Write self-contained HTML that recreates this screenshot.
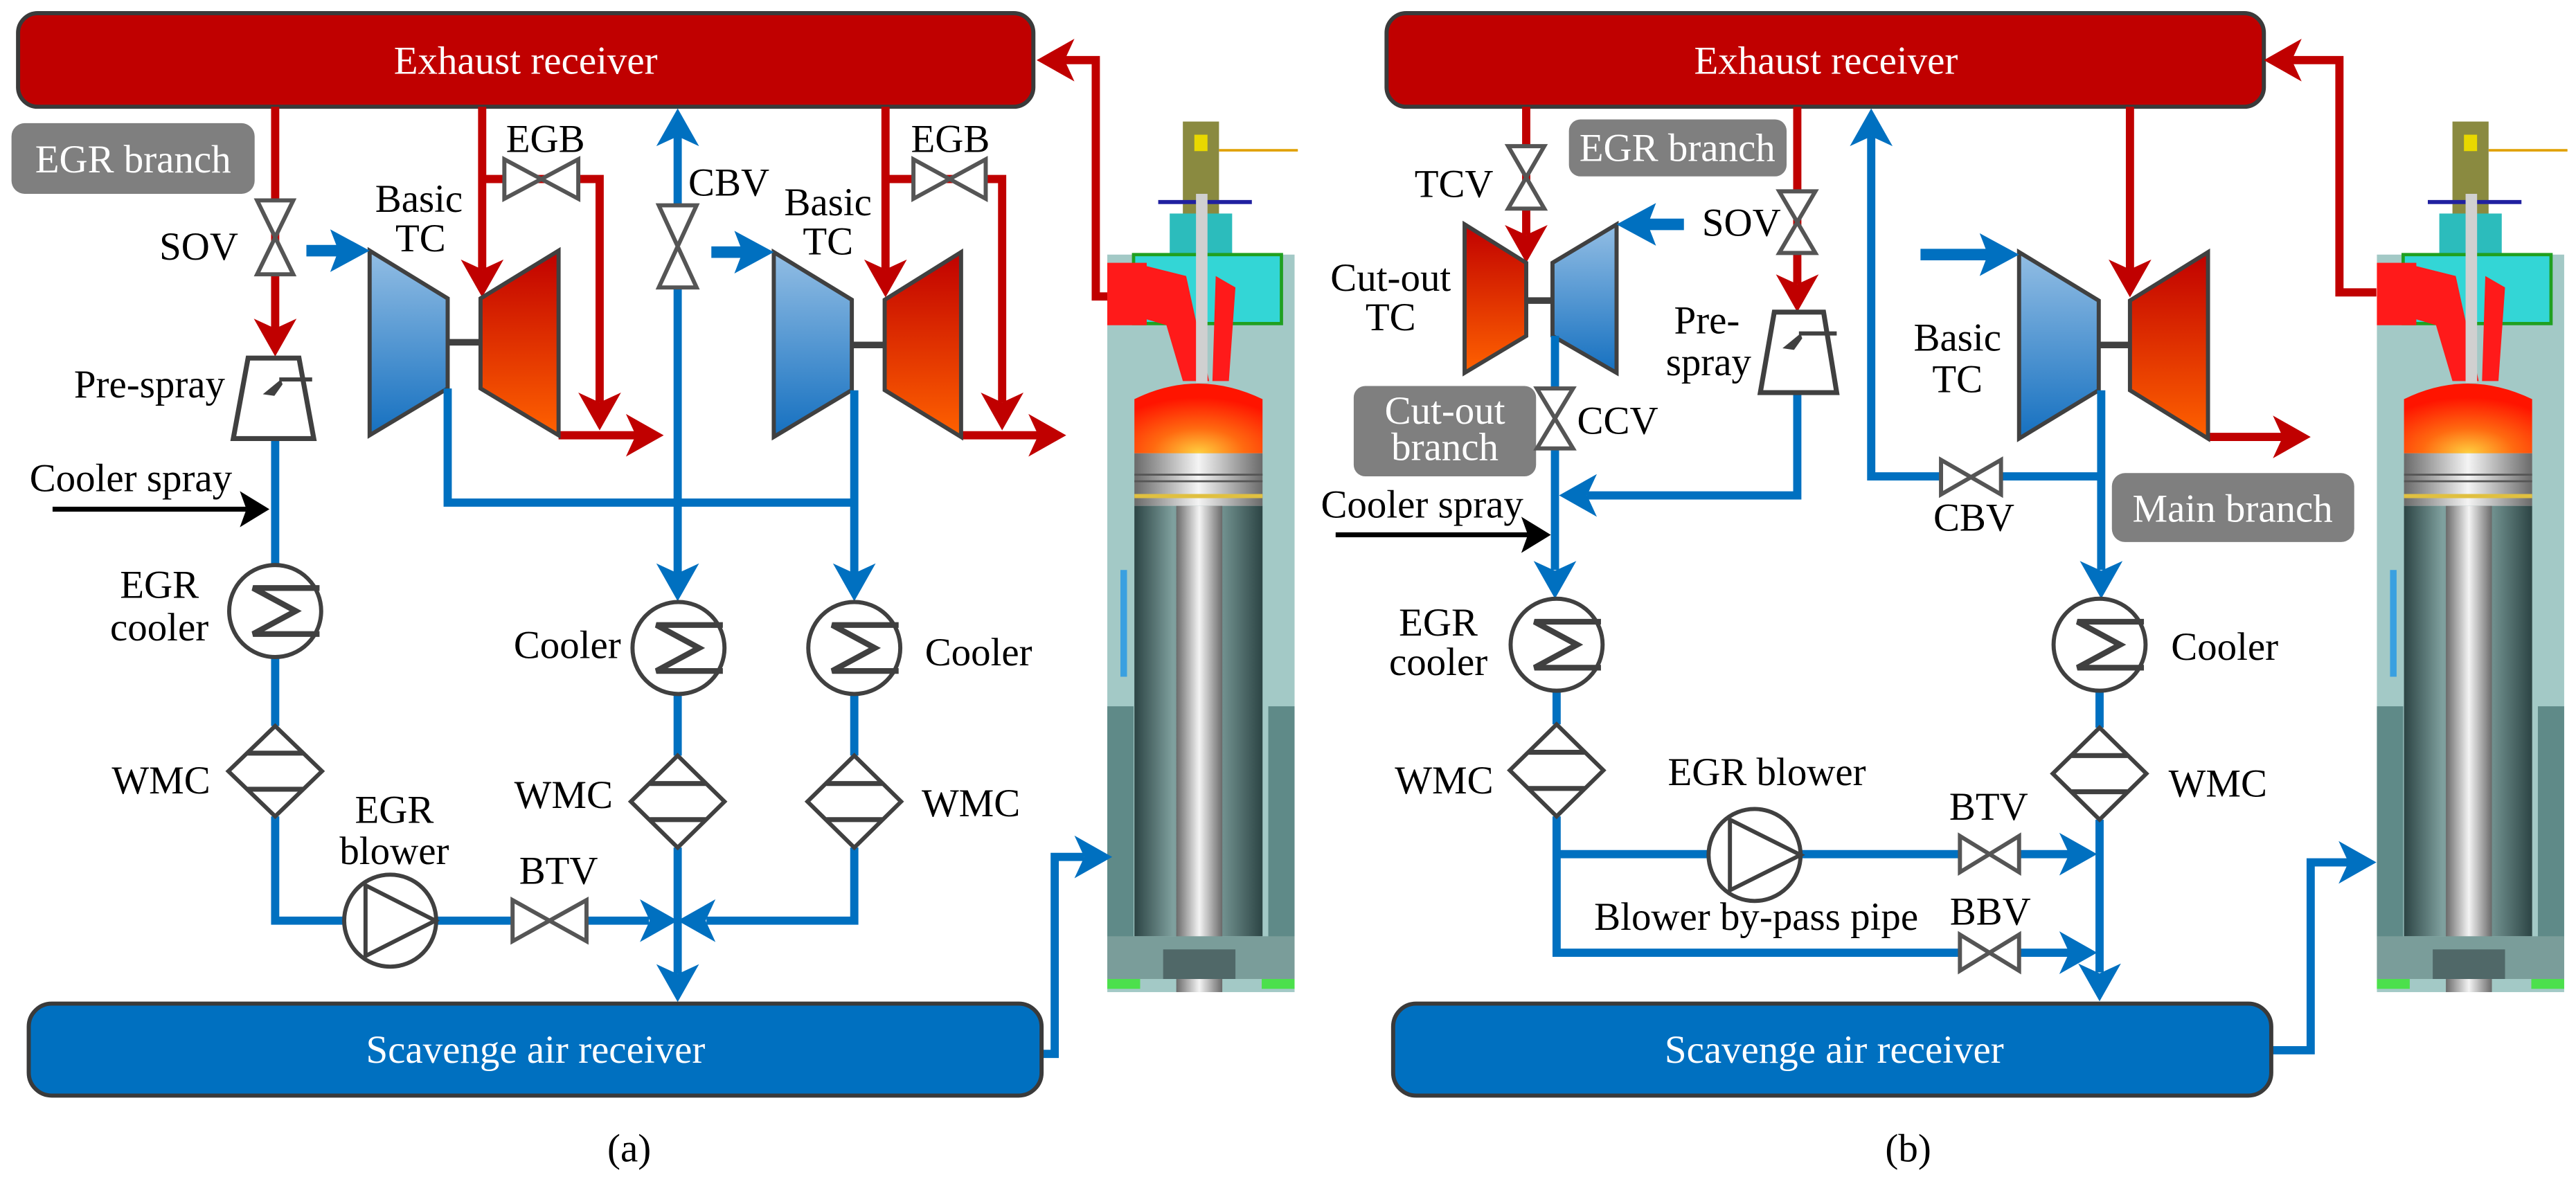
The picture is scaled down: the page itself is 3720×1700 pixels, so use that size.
<!DOCTYPE html>
<html><head><meta charset="utf-8"><style>
html,body{margin:0;padding:0;background:#fff;}
svg{display:block;}
svg text{font-family:"Liberation Serif","Times New Roman","DejaVu Serif",serif;font-size:24px;fill:#000;}
.w{fill:#fff;}
.m{text-anchor:middle;}
.e{text-anchor:end;}
.r{stroke:#C00000;stroke-width:5;fill:none;}
.b{stroke:#0070C0;stroke-width:5;fill:none;}
.ra{fill:#C00000;}
.ba{fill:#0070C0;}
.v{fill:#fff;stroke:#555;stroke-width:2.5;stroke-linejoin:miter;}
.c{fill:#fff;stroke:#404040;stroke-width:2.5;}
.s{fill:none;stroke:#404040;stroke-width:3.5;}
.g{fill:#7f7f7f;}
</style></head><body>
<svg width="3720" height="1700" viewBox="0 0 1568 716.56" preserveAspectRatio="none" xmlns="http://www.w3.org/2000/svg" font-family="Liberation Serif, serif" font-size="24">
<defs>
<linearGradient id="gB" x1="0" y1="0" x2="0" y2="1"><stop offset="0" stop-color="#93BEE4"/><stop offset="1" stop-color="#1570C0"/></linearGradient>
<linearGradient id="gR" x1="0" y1="0" x2="0" y2="1"><stop offset="0" stop-color="#C00000"/><stop offset="1" stop-color="#FF6200"/></linearGradient>
<radialGradient id="gF" cx="0.5" cy="1" r="0.8"><stop offset="0" stop-color="#ffd040"/><stop offset="0.45" stop-color="#ff6a10"/><stop offset="1" stop-color="#ff1400"/></radialGradient>
<linearGradient id="gP" x1="0" y1="0" x2="1" y2="0"><stop offset="0" stop-color="#6a6a6a"/><stop offset="0.5" stop-color="#f4f4f4"/><stop offset="1" stop-color="#6a6a6a"/></linearGradient>
<linearGradient id="gC" x1="0" y1="0" x2="1" y2="0"><stop offset="0" stop-color="#2c4444"/><stop offset="0.3" stop-color="#7fa09e"/><stop offset="0.7" stop-color="#6f8f8d"/><stop offset="1" stop-color="#2c4444"/></linearGradient>
<g id="eng">
<rect x="674" y="155" width="114" height="449" fill="#a3c9c6"/>
<rect x="674" y="430" width="16" height="142" fill="#5f8a88"/>
<rect x="772" y="430" width="16" height="142" fill="#5f8a88"/>
<rect x="720" y="74" width="22" height="82" fill="#8a8a40"/>
<rect x="727" y="82" width="8" height="10" fill="#e8d800"/>
<line x1="705" y1="123" x2="762" y2="123" stroke="#2020a0" stroke-width="2.5"/>
<line x1="742" y1="91.5" x2="790" y2="91.5" stroke="#e0a000" stroke-width="1.5"/>
<rect x="712" y="130" width="38" height="26" fill="#2cbcbc"/>
<rect x="690" y="155" width="90" height="42" fill="#33d6d6" stroke="#20a020" stroke-width="2"/>
<rect x="674" y="160" width="24" height="38" fill="#ff1a1a"/>
<path d="M690,160 L722,168 L736,232 L720,232 L710,198 L690,192 Z" fill="#ff1a1a"/>
<path d="M740,168 L752,175 L748,232 L738,232 Z" fill="#ff1a1a"/>
<rect x="728" y="118" width="7" height="115" fill="#d0d0d0"/>
<path d="M690.5,276 V243 Q729,224 768.5,243 V276 Z" fill="url(#gF)"/>
<rect x="690.5" y="276" width="78" height="32" fill="url(#gP)"/>
<line x1="690.5" y1="289" x2="768.5" y2="289" stroke="#555" stroke-width="1.2"/>
<line x1="690.5" y1="293" x2="768.5" y2="293" stroke="#555" stroke-width="1.2"/>
<line x1="690.5" y1="302" x2="768.5" y2="302" stroke="#e0c040" stroke-width="2.5"/>
<rect x="690.5" y="308" width="78" height="262" fill="url(#gC)"/>
<rect x="716" y="308" width="28" height="296" fill="url(#gP)"/>
<rect x="682" y="347" width="4" height="65" fill="#3aa0e0"/>
<rect x="674" y="570" width="114" height="26" fill="#7a9d9a"/>
<rect x="708" y="578" width="44" height="18" fill="#506868"/>
<rect x="674" y="596" width="20" height="6" fill="#4ce04c"/>
<rect x="768" y="596" width="20" height="6" fill="#4ce04c"/>
</g>
</defs>

<!-- ========== LEFT PANEL (a) ========== -->
<use href="#eng"/>
<rect x="11" y="8" width="618" height="57" rx="12" fill="#C00000" stroke="#3a3a3a" stroke-width="2.5"/>
<text class="w m" x="320" y="45">Exhaust receiver</text>
<rect x="7" y="75" width="148" height="43" rx="8" class="g"/>
<text class="w m" x="81" y="105">EGR branch</text>

<path class="r" d="M167.5,65 V200"/>
<polygon class="ra" points="167.5,217 154.5,194 167.5,200 180.5,194"/>
<path class="r" d="M293.5,65 V164"/>
<polygon class="ra" points="293.5,181 280.5,158 293.5,164 306.5,158"/>
<path class="r" d="M293.5,109 H365 V245"/>
<polygon class="ra" points="365,262 352,239 365,245 378,239"/>
<path class="r" d="M340,265 H388"/>
<polygon class="ra" points="404,265 381,252 387,265 381,278"/>
<path class="r" d="M539,65 V164"/>
<polygon class="ra" points="539,181 526,158 539,164 552,158"/>
<path class="r" d="M539,109 H610 V245"/>
<polygon class="ra" points="610,262 597,239 610,245 623,239"/>
<path class="r" d="M585,265 H633"/>
<polygon class="ra" points="649,265 626,252 632,265 626,278"/>
<path class="r" d="M674,180.5 H667 V36.6 H648"/>
<polygon class="ra" points="631,36.6 654,23.6 648,36.6 654,49.6"/>

<path class="v" d="M156.5,122 H178.5 L156.5,167 H178.5 Z"/>
<path class="v" d="M307,97 V121 L352,97 V121 Z"/>
<path class="v" d="M556,97 V121 L600,97 V121 Z"/>

<polygon points="225,152.6 272.5,181.7 272.5,236.5 225,265" fill="url(#gB)" stroke="#404040" stroke-width="2.5"/>
<line x1="272.5" y1="208.4" x2="292.5" y2="208.4" stroke="#404040" stroke-width="4"/>
<polygon points="292.5,181.7 340,152.6 340,265 292.5,236.5" fill="url(#gR)" stroke="#404040" stroke-width="2.5"/>
<polygon points="471,153.5 518.5,182.5 518.5,237.5 471,266" fill="url(#gB)" stroke="#404040" stroke-width="2.5"/>
<line x1="518.5" y1="210" x2="538.5" y2="210" stroke="#404040" stroke-width="4"/>
<polygon points="538.5,182.5 585,153.5 585,266 538.5,237.5" fill="url(#gR)" stroke="#404040" stroke-width="2.5"/>

<path class="b" d="M186.5,152.6 H207" style="stroke-width:7"/>
<polygon class="ba" points="225,152.6 201,139.6 206,152.6 201,165.6"/>
<path class="b" d="M433,153.5 H453" style="stroke-width:7"/>
<polygon class="ba" points="471,153.5 447,140.5 452,153.5 447,166.5"/>
<path class="b" d="M167.5,267 V344 M167.5,400 V442 M167.5,497 V560.5 H210 M265,560.5 H312 M357,560.5 H395"/>
<polygon class="ba" points="412.5,560.5 389.5,547.5 395.5,560.5 389.5,573.5"/>
<path class="b" d="M520,423 V460 M520,516 V560.5 H430"/>
<polygon class="ba" points="412.5,560.5 435.5,547.5 429.5,560.5 435.5,573.5"/>
<path class="b" d="M412.5,83 V125 M412.5,175 V349 M412.5,423 V460 M412.5,516 V593"/>
<polygon class="ba" points="412.5,66 399.5,89 412.5,83 425.5,89"/>
<polygon class="ba" points="412.5,366 399.5,343 412.5,349 425.5,343"/>
<polygon class="ba" points="412.5,610 399.5,587 412.5,593 425.5,587"/>
<path class="b" d="M272.5,236.5 V306 H520 M520,237.6 V349"/>
<polygon class="ba" points="520,366 507,343 520,349 533,343"/>
<path class="b" d="M634,641.6 H642 V521.7 H660"/>
<polygon class="ba" points="677,521.7 654,508.7 660,521.7 654,534.7"/>
<path class="v" d="M401,125 H424 L401,175 H424 Z"/>
<path class="v" d="M312,548 V573 L357,548 V573 Z"/>

<path d="M151,218 H182 L191,267 H142 Z" fill="#fff" stroke="#404040" stroke-width="3"/>
<line x1="170" y1="231" x2="190" y2="231" stroke="#404040" stroke-width="2.5"/>
<path d="M171,231 L160,240 L167,241 L172,234 Z" fill="#404040"/>
<line x1="32" y1="310" x2="150" y2="310" stroke="#000" stroke-width="3"/>
<polygon points="164,310 146,299 150,310 146,321" fill="#000"/>

<circle class="c" cx="167.5" cy="372" r="28"/>
<path class="s" d="M194.5,358 H154 L180,372 L154,386 H194.5"/>
<circle class="c" cx="413" cy="394.5" r="28"/>
<path class="s" d="M440,380.5 H399.5 L425.5,394.5 L399.5,408.5 H440"/>
<circle class="c" cx="520" cy="394.5" r="28"/>
<path class="s" d="M547,380.5 H506.5 L532.5,394.5 L506.5,408.5 H547"/>

<path class="c" d="M167.5,442 L196,469.5 L167.5,497 L139,469.5 Z"/>
<path class="s" style="stroke-width:3" d="M150.5,458.5 H184.5 M150.5,480.5 H184.5"/>
<path class="c" d="M412.5,460 L441,488 L412.5,516 L384,488 Z"/>
<path class="s" style="stroke-width:3" d="M395.5,477 H429.5 M395.5,499 H429.5"/>
<path class="c" d="M520,460 L548.5,488 L520,516 L491.5,488 Z"/>
<path class="s" style="stroke-width:3" d="M503,477 H537 M503,499 H537"/>

<circle class="c" cx="237.5" cy="560.5" r="28"/>
<path d="M222.5,539 L265,560.5 L222.5,582 Z" fill="none" stroke="#404040" stroke-width="2.5"/>

<rect x="17.5" y="611" width="616.5" height="56" rx="14" fill="#0070C0" stroke="#3a3a3a" stroke-width="2.5"/>
<text class="w m" x="326" y="647">Scavenge air receiver</text>

<text class="e" x="145" y="158">SOV</text>
<text class="m" x="255" y="129">Basic</text>
<text class="m" x="256" y="153">TC</text>
<text class="m" x="332" y="92.5">EGB</text>
<text x="419" y="119">CBV</text>
<text class="m" x="504" y="131">Basic</text>
<text class="m" x="504" y="155">TC</text>
<text class="m" x="578.5" y="92.5">EGB</text>
<text class="e" x="137" y="242">Pre-spray</text>
<text x="18" y="299">Cooler spray</text>
<text class="m" x="97" y="364">EGR</text>
<text class="m" x="97" y="390">cooler</text>
<text class="e" x="378" y="400.6">Cooler</text>
<text x="563" y="405">Cooler</text>
<text class="e" x="128" y="483">WMC</text>
<text class="e" x="373" y="492">WMC</text>
<text x="561" y="497">WMC</text>
<text class="m" x="240" y="501">EGR</text>
<text class="m" x="240" y="526">blower</text>
<text class="m" x="340" y="538">BTV</text>
<text class="m" x="383" y="707">(a)</text>

<!-- ========== RIGHT PANEL (b) ========== -->
<use href="#eng" transform="translate(772.8,0)"/>
<rect x="844" y="8" width="534" height="57" rx="12" fill="#C00000" stroke="#3a3a3a" stroke-width="2.5"/>
<text class="w m" x="1111.5" y="45">Exhaust receiver</text>
<rect x="955" y="72.7" width="132.5" height="34.7" rx="7" class="g"/>
<text class="w m" x="1021" y="98">EGR branch</text>
<rect x="824" y="235" width="111" height="55" rx="7" class="g"/>
<text class="w m" x="879.5" y="258">Cut-out</text>
<text class="w m" x="879.5" y="280">branch</text>
<rect x="1285.5" y="288" width="147.5" height="42" rx="8" class="g"/>
<text class="w m" x="1359" y="317.6">Main branch</text>

<path class="r" d="M929,65 V143"/>
<polygon class="ra" points="929,160 916,137 929,143 942,137"/>
<path class="r" d="M1094,65 V173"/>
<polygon class="ra" points="1094,190 1081,167 1094,173 1107,167"/>
<path class="r" d="M1296.5,65 V164"/>
<polygon class="ra" points="1296.5,181 1283.5,158 1296.5,164 1309.5,158"/>
<path class="r" d="M1344,266 H1390"/>
<polygon class="ra" points="1406.5,266 1383.5,253 1389.5,266 1383.5,279"/>
<path class="r" d="M1446.5,178 H1424 V36.6 H1395"/>
<polygon class="ra" points="1378,36.6 1401,23.6 1395,36.6 1401,49.6"/>
<path class="v" d="M918,89 H940 L918,127 H940 Z"/>
<path class="v" d="M1083,116.5 H1105 L1083,154 H1105 Z"/>

<polygon points="891.5,136.6 929,160 929,204.5 891.5,227" fill="url(#gR)" stroke="#404040" stroke-width="2.5"/>
<line x1="929" y1="183" x2="945" y2="183" stroke="#404040" stroke-width="4"/>
<polygon points="945,160 984,136.6 984,227 945,204.5" fill="url(#gB)" stroke="#404040" stroke-width="2.5"/>
<polygon points="1229,153.5 1277.5,183 1277.5,237.6 1229,267" fill="url(#gB)" stroke="#404040" stroke-width="2.5"/>
<line x1="1277.5" y1="210" x2="1296.5" y2="210" stroke="#404040" stroke-width="4"/>
<polygon points="1296.5,183 1344,153.5 1344,267 1296.5,237.6" fill="url(#gR)" stroke="#404040" stroke-width="2.5"/>

<path class="b" d="M1025,136.6 H1002" style="stroke-width:7"/>
<polygon class="ba" points="984,136.6 1008,123.6 1003,136.6 1008,149.6"/>
<path class="b" d="M1169,155 H1211" style="stroke-width:7"/>
<polygon class="ba" points="1229,155 1205,142 1210,155 1205,168"/>
<path class="b" d="M946.5,204.5 V236.5 M946.5,273 V347 M947.5,421 V441 M947.5,497 V580 H1193 M1229,580 H1260 M947.5,520 H1040 M1096,520 H1193 M1229,520 H1260"/>
<polygon class="ba" points="946.5,364.5 933.5,341.5 946.5,347.5 959.5,341.5"/>
<polygon class="ba" points="1276.5,520 1253.5,507 1259.5,520 1253.5,533"/>
<polygon class="ba" points="1276.5,580 1253.5,567 1259.5,580 1253.5,593"/>
<path class="b" d="M1094,239 V301.6 H966"/>
<polygon class="ba" points="949,301.6 972,288.6 966,301.6 972,314.6"/>
<path class="b" d="M1139,83 V290 H1182 M1218,290 H1279 M1279,237.6 V347 M1278,421 V443 M1278,499 V592"/>
<polygon class="ba" points="1139,66 1126,89 1139,83 1152,89"/>
<polygon class="ba" points="1279,364.5 1266,341.5 1279,347.5 1292,341.5"/>
<polygon class="ba" points="1278,609.6 1265,586.6 1278,592.6 1291,586.6"/>
<path class="b" d="M1382.5,639.4 H1406.5 V525 H1430"/>
<polygon class="ba" points="1446.5,525 1423.5,512 1429.5,525 1423.5,538"/>
<path class="v" d="M935.5,236.5 H957.5 L935.5,273 H957.5 Z"/>
<path class="v" d="M1181.5,280 V301 L1218,280 V301 Z"/>
<path class="v" d="M1193,509 V531 L1229,509 V531 Z"/>
<path class="v" d="M1193,569 V591 L1229,569 V591 Z"/>

<path d="M1080,190 H1110 L1118,239 H1071.5 Z" fill="#fff" stroke="#404040" stroke-width="3"/>
<line x1="1095" y1="203" x2="1118" y2="203" stroke="#404040" stroke-width="2.5"/>
<path d="M1096,203 L1085,212 L1092,213 L1097,206 Z" fill="#404040"/>
<line x1="813" y1="325.6" x2="930" y2="325.6" stroke="#000" stroke-width="3"/>
<polygon points="944,325.6 926,314.6 930,325.6 926,336.6" fill="#000"/>

<circle class="c" cx="947.5" cy="392.5" r="28"/>
<path class="s" d="M974.5,378.5 H934 L960,392.5 L934,406.5 H974.5"/>
<circle class="c" cx="1278" cy="392.5" r="28"/>
<path class="s" d="M1305,378.5 H1264.5 L1290.5,392.5 L1264.5,406.5 H1305"/>
<path class="c" d="M947.5,441 L976,469 L947.5,497 L919,469 Z"/>
<path class="s" style="stroke-width:3" d="M930.5,458 H964.5 M930.5,480 H964.5"/>
<path class="c" d="M1278,443 L1306.5,471 L1278,499 L1249.5,471 Z"/>
<path class="s" style="stroke-width:3" d="M1261,460 H1295 M1261,482 H1295"/>
<circle class="c" cx="1068" cy="520.5" r="28"/>
<path d="M1053,499 L1096,520.5 L1053,542 Z" fill="none" stroke="#404040" stroke-width="2.5"/>

<rect x="848" y="611" width="534.5" height="56" rx="14" fill="#0070C0" stroke="#3a3a3a" stroke-width="2.5"/>
<text class="w m" x="1116.5" y="647">Scavenge air receiver</text>

<text class="e" x="909" y="120">TCV</text>
<text class="e" x="1084" y="143.5">SOV</text>
<text class="m" x="846.5" y="177">Cut-out</text>
<text class="m" x="846.5" y="201">TC</text>
<text class="m" x="1039" y="203">Pre-</text>
<text class="m" x="1040" y="228.5">spray</text>
<text class="m" x="1191.5" y="213.6">Basic</text>
<text class="m" x="1191.5" y="238.8">TC</text>
<text x="960" y="264">CCV</text>
<text x="804" y="315">Cooler spray</text>
<text class="m" x="1201.5" y="323">CBV</text>
<text class="m" x="875.5" y="387">EGR</text>
<text class="m" x="875.5" y="411">cooler</text>
<text x="1321.5" y="401.7">Cooler</text>
<text class="e" x="909" y="483">WMC</text>
<text x="1320" y="485">WMC</text>
<text class="m" x="1075.5" y="478">EGR blower</text>
<text class="m" x="1210.5" y="499">BTV</text>
<text class="m" x="1069" y="566">Blower by-pass pipe</text>
<text class="m" x="1211.5" y="563">BBV</text>
<text class="m" x="1161.5" y="707">(b)</text>
</svg>
</body></html>
